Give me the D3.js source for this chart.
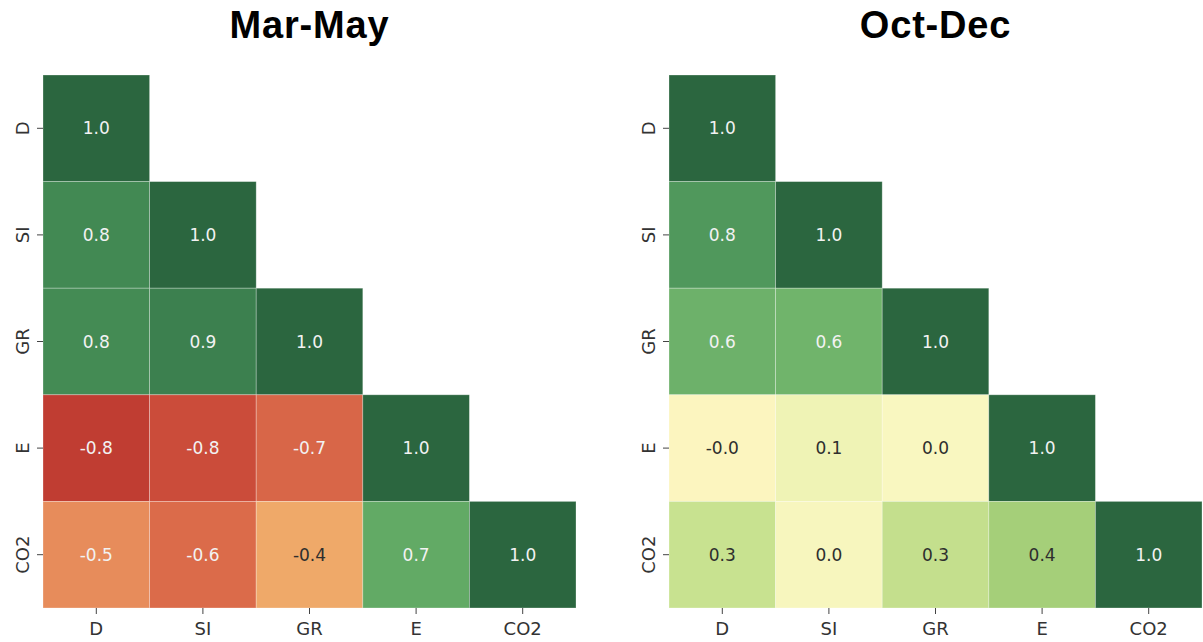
<!DOCTYPE html>
<html>
<head>
<meta charset="utf-8">
<script src="https://cdn.jsdelivr.net/npm/d3@7"></script>
<style>
  body { margin: 0; background: #fff; }
  .tick text { font-family: "DejaVu Sans", sans-serif; }
</style>
</head>
<body>
<div id="chart"></div>
<script>
// variables on both axes
var vars = ["D", "SI", "GR", "E", "CO2"];

// lower triangle of the correlation matrix, row by row
var marMay = [
    [1.0],
    [0.83, 1.0],
    [0.82, 0.88, 1.0],
    [-0.84, -0.76, -0.66, 1.0],
    [-0.52, -0.64, -0.42, 0.68, 1.0]
];

var octDec = [
    [1.0],
    [0.76, 1.0],
    [0.62, 0.6, 1.0],
    [-0.02, 0.08, 0.02, 1.0],
    [0.28, 0.03, 0.3, 0.42, 1.0]
];

var titles = ["Mar-May", "Oct-Dec"];

var svgWidth = 1203;
var svgHeight = 642;

var svg = d3.select("#chart")
    .append("svg")
    .attr("width", svgWidth)
    .attr("height", svgHeight);

// washed out RdYlGn, as in the picture
var color = d3.scaleLinear()
    .domain([-1, -0.8, -0.6, -0.4, -0.2, 0, 0.2, 0.4, 0.6, 0.7, 0.8, 0.9, 1])
    .range(["#a8272b", "#c64234", "#e07550", "#f1af6c", "#f8d596", "#fcf8c4",
            "#dcec9f", "#abd27a", "#70b46b", "#5fa764", "#468e56", "#3a7d4d", "#2b663f"])
    .interpolate(d3.interpolateRgb);

function textColor(v) {
    var c = d3.rgb(color(v));
    var lum = (0.2126 * c.r + 0.7152 * c.g + 0.0722 * c.b) / 255;
    return lum < 0.68 ? "#f2f2f2" : "#2e2e2e";
}

var panels = [
    { data: marMay, x0: 43 },
    { data: octDec, x0: 669 }
];

var chartTop = 75;
var size = 533;

panels.forEach(function(p, k) {
    var x = d3.scaleBand().domain(vars).range([p.x0, p.x0 + size]);
    var y = d3.scaleBand().domain(vars).range([chartTop, chartTop + size]);

    var cells = [];
    p.data.forEach(function(row, i) {
        row.forEach(function(v, j) {
            cells.push({ row: vars[i], col: vars[j], value: v });
        });
    });

    var g = svg.append("g");

    g.selectAll("rect")
        .data(cells)
        .enter()
        .append("rect")
        .attr("x", d => x(d.col))
        .attr("y", d => y(d.row))
        .attr("width", x.bandwidth())
        .attr("height", y.bandwidth())
        .attr("fill", d => color(d.value))
        .attr("stroke", "rgba(255,255,255,0.35)")
        .attr("stroke-width", 0.8);

    g.selectAll("text.annot")
        .data(cells)
        .enter()
        .append("text")
        .attr("class", "annot")
        .attr("x", d => x(d.col) + x.bandwidth() / 2)
        .attr("y", d => y(d.row) + y.bandwidth() / 2)
        .attr("text-anchor", "middle")
        .attr("dy", "0.36em")
        .attr("font-family", "DejaVu Sans, sans-serif")
        .attr("font-size", "17px")
        .attr("fill", d => textColor(d.value))
        .text(d => d.value.toFixed(1));

    // x axis
    var xAxis = svg.append("g")
        .attr("transform", `translate(0, ${chartTop + size})`)
        .call(d3.axisBottom(x).tickSize(6).tickPadding(8));
    xAxis.select(".domain").remove();
    xAxis.selectAll(".tick line").attr("stroke", "#444");
    xAxis.selectAll(".tick text")
        .attr("font-size", "18px")
        .attr("fill", "#333");

    // y axis, labels turned on their side
    var yAxis = svg.append("g")
        .attr("transform", `translate(${p.x0}, 0)`)
        .call(d3.axisLeft(y).tickSize(6));
    yAxis.select(".domain").remove();
    yAxis.selectAll(".tick line").attr("stroke", "#444");
    yAxis.selectAll(".tick text")
        .attr("x", 0)
        .attr("dy", 0)
        .attr("text-anchor", "middle")
        .attr("transform", "translate(-21, 0) rotate(-90)")
        .attr("dominant-baseline", "central")
        .attr("font-size", "18px")
        .attr("fill", "#333");

    // title
    svg.append("text")
        .attr("x", p.x0 + size / 2)
        .attr("y", 38)
        .attr("text-anchor", "middle")
        .attr("font-family", "Liberation Sans, Arial, sans-serif")
        .attr("font-weight", "bold")
        .attr("font-size", "38px")
        .attr("letter-spacing", "0.8px")
        .attr("fill", "#000")
        .text(titles[k]);
});
</script>
</body>
</html>
